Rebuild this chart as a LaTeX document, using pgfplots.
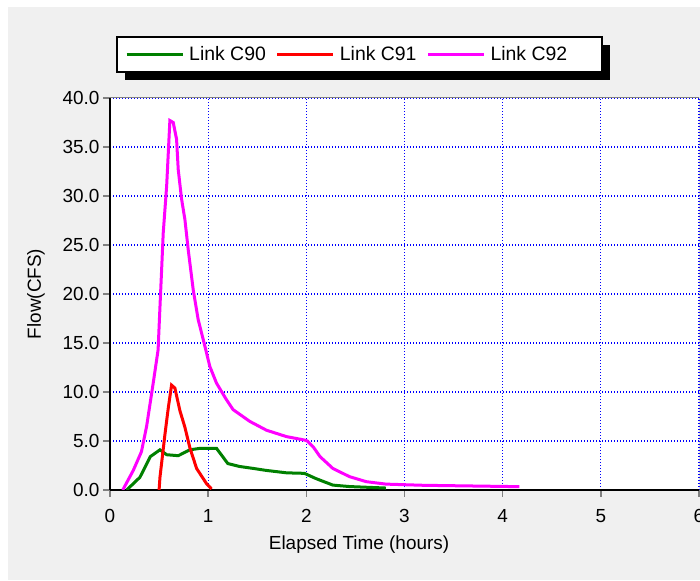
\documentclass[border=0pt]{standalone}
\usepackage{pgfplots}
\pgfplotsset{compat=1.18}
\usepackage{fontspec}
\setmainfont{Liberation Sans}
\definecolor{bggray}{RGB}{240,240,240}
\definecolor{cgreen}{RGB}{0,128,0}
\definecolor{cred}{RGB}{255,0,0}
\definecolor{cmag}{RGB}{255,0,255}
\definecolor{gridblue}{RGB}{0,0,255}
\begin{document}
\begin{tikzpicture}[x=1bp,y=1bp]
\fill[bggray] (8,1) rectangle (700,574);
% legend frame and its shadow
\fill[black] (125,501) rectangle (610,536);
\draw[black, line width=1.5bp, fill=white] (117,509) rectangle (602,544);
\begin{axis}[
  at={(110bp,91bp)}, anchor=south west,
  scale only axis, width=589bp, height=392bp,
  xmin=0, xmax=6, ymin=0, ymax=40,
  xtick={0,1,2,3,4,5,6}, ytick={0,5,...,40},
  axis x line*=bottom, axis y line*=left,
  axis line style={black, line width=2.5bp},
  axis background/.style={fill=white},
  grid=major,
  major grid style={gridblue, dash pattern=on 1.3bp off 1.7bp, line width=1.3bp},
  tick align=outside, major tick length=7bp,
  tick style={gray, line width=1.5bp},
  font=\fontsize{19}{22}\selectfont,
  /pgf/number format/assume math mode=true,
  yticklabel style={/pgf/number format/.cd, fixed, fixed zerofill, precision=1},
  xticklabel style={yshift=-9bp, /pgf/number format/.cd, fixed, precision=0},
  every axis y label/.style={at={(rel axis cs:0,0.5)}, xshift=-74bp, rotate=90, anchor=center},
  every axis x label/.style={at={(rel axis cs:0.4228,0)}, yshift=-55bp, anchor=center},
  xlabel={Elapsed Time (hours)},
  ylabel={Flow(CFS)},
  legend columns=3,
  legend image code/.code={\draw[#1] (0bp,0bp) -- (56bp,0bp);},
  legend style={at={(rel axis cs:0.0255,1.111)}, anchor=west,
    draw=none, fill=none, inner sep=0pt,
    font=\fontsize{19.5}{22}\selectfont,
    nodes={inner xsep=5bp, inner ysep=2bp},
    /tikz/every even column/.append style={column sep=5bp},
    /tikz/every odd column/.append style={column sep=0bp}},
]
\draw[gray, line width=1bp] (rel axis cs:0,1) -- (rel axis cs:1,1) -- (rel axis cs:1,0);
\addplot[cgreen, line width=3bp] table {
x y
0.17 0.0
0.305 1.3
0.41 3.4
0.509 4.1
0.577 3.6
0.695 3.5
0.814 4.1
0.916 4.25
1.085 4.25
1.20 2.7
1.32 2.4
1.46 2.2
1.59 2.0
1.80 1.75
1.98 1.7
2.09 1.2
2.14 1.0
2.27 0.5
2.44 0.35
2.81 0.2
};
\addlegendentry{Link C90}
\addplot[cred, line width=3bp] table {
x y
0.50 0.0
0.509 1.3
0.56 5.7
0.594 8.4
0.627 10.7
0.661 10.4
0.712 8.1
0.763 6.4
0.814 4.3
0.882 2.2
0.983 0.65
1.035 0.1
};
\addlegendentry{Link C91}
\addplot[cmag, line width=3bp] table {
x y
0.13 0.0
0.237 2.0
0.32 3.9
0.373 6.5
0.44 10.9
0.49 14.3
0.509 18.7
0.526 22.5
0.542 26.2
0.577 31.0
0.61 37.7
0.644 37.5
0.678 35.8
0.695 32.7
0.729 29.7
0.763 27.6
0.797 24.5
0.848 20.4
0.898 17.4
0.966 14.7
1.017 12.6
1.085 10.9
1.187 9.2
1.254 8.2
1.424 7.0
1.594 6.1
1.797 5.45
1.98 5.1
2.01 5.0
2.07 4.4
2.14 3.4
2.27 2.2
2.44 1.36
2.61 0.85
2.81 0.6
3.19 0.48
4.17 0.34
};
\addlegendentry{Link C92}
\end{axis}
\pgfresetboundingbox
\useasboundingbox (0,0) rectangle (700,581);
\end{tikzpicture}
\end{document}
